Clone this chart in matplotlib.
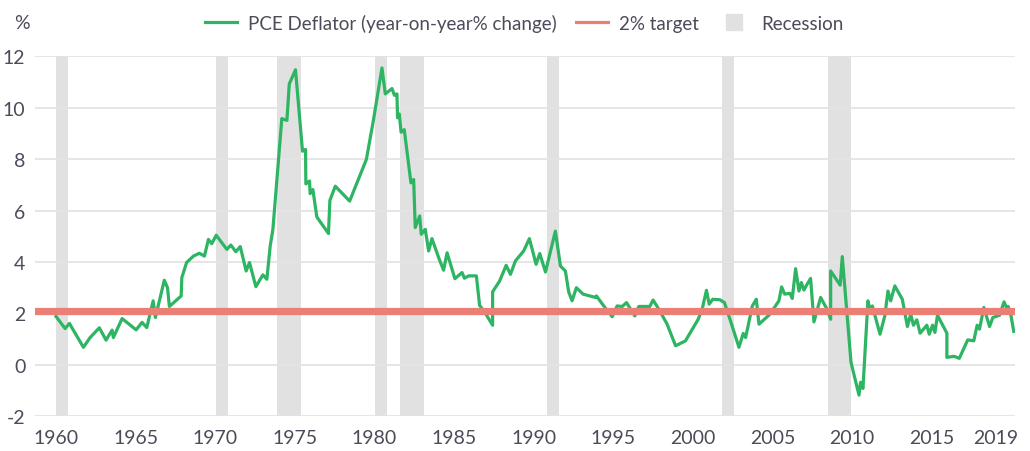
import matplotlib
matplotlib.use("Agg")
import matplotlib.pyplot as plt
from matplotlib.lines import Line2D

plt.rcParams['font.family'] = ['Lato', 'DejaVu Sans']
plt.rcParams['axes.unicode_minus'] = False

# PCE deflator, year-on-year % change
pce_year = [1960.0, 1960.57, 1960.84, 1961.72, 1962.14, 1962.72, 1963.14, 1963.52, 1963.6, 1964.15,
            1965.03, 1965.4, 1965.7, 1965.9, 1966.1, 1966.24, 1966.8, 1967.0, 1967.12, 1967.86,
            1967.9, 1968.2, 1968.63, 1969.0, 1969.32, 1969.57, 1969.78, 1970.06, 1970.73, 1970.98,
            1971.29, 1971.57, 1971.94, 1972.15, 1972.55, 1972.99, 1973.24, 1973.45, 1973.62, 1974.18,
            1974.5, 1974.65, 1975.04, 1975.48, 1975.67, 1975.69, 1975.92, 1975.96, 1976.13, 1976.38,
            1977.11, 1977.2, 1977.54, 1978.44, 1979.49, 1979.94, 1980.47, 1980.68, 1981.1, 1981.25,
            1981.41, 1981.45, 1981.56, 1981.67, 1981.87, 1982.29, 1982.46, 1982.56, 1982.84, 1982.94,
            1983.19, 1983.4, 1983.61, 1984.03, 1984.34, 1984.56, 1985.05, 1985.5, 1985.65, 1985.92,
            1986.4, 1986.6, 1986.96, 1987.42, 1987.42, 1987.86, 1988.27, 1988.54, 1988.85, 1989.37,
            1989.73, 1990.15, 1990.38, 1990.74, 1991.36, 1991.68, 1991.99, 1992.2, 1992.41, 1992.68,
            1993.1, 1993.88, 1993.94, 1994.4, 1994.93, 1995.24, 1995.56, 1995.83, 1996.35, 1996.6,
            1997.29, 1997.5, 1997.86, 1998.38, 1998.91, 1999.53, 2000.33, 2000.58, 2000.85, 2001.02,
            2001.24, 2001.7, 2001.98, 2002.36, 2002.89, 2003.16, 2003.31, 2003.73, 2003.98, 2004.15,
            2004.84, 2005.4, 2005.57, 2005.76, 2006.09, 2006.24, 2006.45, 2006.66, 2006.81, 2006.97,
            2007.14, 2007.39, 2007.6, 2008.02, 2008.4, 2008.65, 2008.65, 2009.25, 2009.38, 2009.93,
            2010.43, 2010.53, 2010.68, 2010.99, 2011.12, 2011.27, 2011.75, 2012.05, 2012.25, 2012.42,
            2012.68, 2013.15, 2013.47, 2013.68, 2013.85, 2014.06, 2014.27, 2014.69, 2014.84, 2015.05,
            2015.2, 2015.36, 2015.95, 2015.95, 2016.41, 2016.73, 2017.26, 2017.64, 2017.85, 2018.0,
            2018.27, 2018.63, 2018.84, 2019.26, 2019.54, 2019.69, 2019.8, 2019.96, 2020.15]
pce_value = [1.88, 1.41, 1.61, 0.68, 1.06, 1.44, 0.96, 1.35, 1.06, 1.80,
             1.36, 1.65, 1.45, 1.97, 2.49, 1.84, 3.29, 3.0, 2.27, 2.68,
             3.39, 3.98, 4.23, 4.34, 4.23, 4.88, 4.71, 5.04, 4.49, 4.66,
             4.40, 4.6, 3.65, 3.98, 3.04, 3.5, 3.33, 4.62, 5.27, 9.58,
             9.51, 10.93, 11.48, 8.31, 8.38, 7.04, 7.15, 6.66, 6.82, 5.75,
             5.11, 6.40, 6.95, 6.37, 7.99, 9.54, 11.55, 10.54, 10.75, 10.49,
             10.54, 9.61, 9.76, 9.05, 9.15, 7.08, 7.21, 5.34, 5.79, 5.08,
             5.27, 4.43, 4.91, 4.17, 3.68, 4.36, 3.35, 3.59, 3.37, 3.46,
             3.46, 2.32, 2.01, 1.54, 2.84, 3.26, 3.87, 3.52, 4.04, 4.43,
             4.91, 3.91, 4.33, 3.61, 5.2, 3.84, 3.65, 2.83, 2.49, 3.0,
             2.75, 2.62, 2.68, 2.29, 1.87, 2.29, 2.27, 2.42, 1.9, 2.27,
             2.27, 2.52, 2.16, 1.58, 0.74, 0.93, 1.77, 2.16, 2.9, 2.36,
             2.55, 2.53, 2.42, 1.71, 0.68, 1.22, 1.06, 2.29, 2.55, 1.58,
             1.97, 2.49, 3.03, 2.75, 2.78, 2.58, 3.74, 2.87, 3.2, 2.91,
             3.1, 3.36, 1.67, 2.62, 2.19, 1.77, 3.65, 3.1, 4.21, 0.09,
             -1.18, -0.68, -0.92, 2.49, 2.16, 2.29, 1.19, 1.9, 2.87, 2.49,
             3.07, 2.55, 1.49, 1.97, 1.54, 1.75, 1.23, 1.54, 1.19, 1.54,
             1.26, 1.93, 1.23, 0.29, 0.33, 0.25, 0.97, 0.93, 1.54, 1.39,
             2.23, 1.49, 1.84, 1.93, 2.45, 2.23, 2.27, 1.97, 1.3]

target = 2.1

rec_start = [1960.0, 1970.06, 1973.89, 1980.05, 1981.62, 1990.86, 2001.8, 2008.5]
rec_end = [1960.75, 1970.81, 1975.4, 1980.8, 1983.13, 1991.61, 2002.55, 2009.95]

x_ticks = [1960, 1965, 1970, 1975, 1980, 1985, 1990, 1995, 2000, 2005, 2010, 2015, 2019]
y_ticks = [-2, 0, 2, 4, 6, 8, 10, 12]

green = '#2db563'
red = '#ec7f75'
band = '#e1e1e1'
txt = '#4b4b5a'

fig = plt.figure(figsize=(10.3, 4.52), dpi=100)
ax = fig.add_axes([0.034, 0.077, 0.951, 0.796])

for s, e in zip(rec_start, rec_end):
    ax.axvspan(s, e, color=band, lw=0, zorder=0)

ax.plot(pce_year, pce_value, color=green, lw=2.3, zorder=3)
ax.axhline(target, color=red, lw=5.2, zorder=4)

ax.set_xlim(1958.68, 2020.2)
ax.set_ylim(-2, 12)
ax.set_xticks(x_ticks)
ax.set_xticklabels([str(t) for t in x_ticks])
ax.set_yticks(y_ticks)
ax.yaxis.grid(True, color='#e4e4e4', lw=1.3, zorder=1)
ax.set_axisbelow(True)
for sp in ax.spines.values():
    sp.set_visible(False)
ax.tick_params(length=0, labelsize=14, colors=txt)
ax.tick_params(axis='x', pad=9)
ax.tick_params(axis='y', pad=7)

fig.text(0.021, 0.947, '%', fontsize=14, color=txt, ha='center', va='center')

handles = [Line2D([], [], color=green, lw=2.3),
           Line2D([], [], color=red, lw=2.3),
           Line2D([], [], marker='s', ls='none', markersize=11, color=band)]
labels = ['PCE Deflator (year-on-year% change)', '2% target', 'Recession']
leg = fig.legend(handles, labels, loc='center', bbox_to_anchor=(0.509, 0.947), ncol=3,
                 frameon=False, fontsize=13.5, handlelength=1.7, handletextpad=0.6,
                 columnspacing=1.0, labelcolor=txt)

fig.savefig('out.png', dpi=100)
